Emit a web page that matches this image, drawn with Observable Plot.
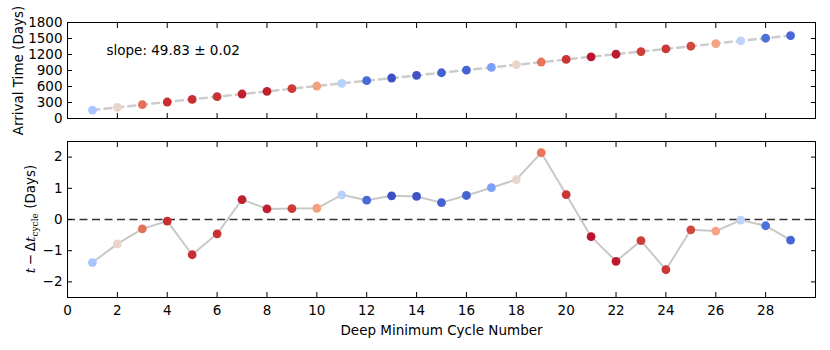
<!DOCTYPE html>
<html>
<head>
<meta charset="utf-8">
<script src="https://cdn.jsdelivr.net/npm/d3@7"></script>
<script src="https://cdn.jsdelivr.net/npm/@observablehq/plot@0.6"></script>
<style>
  body { margin: 0; background: #fff; }
  #chart { width: 830px; }
  #chart svg { display: block; font-family: "DejaVu Sans", sans-serif; }
</style>
</head>
<body>
<div id="chart"></div>
<script>
// ---- data ----
const cycles = [1,2,3,4,5,6,7,8,9,10,11,12,13,14,15,16,17,18,19,20,21,22,23,24,25,26,27,28,29];
const arrivalTimes = [158,209,259,309,358,409,459,509,559,609,659,709,759,808,858,908,958,1008,1059,1107,1156,1205,1255,1304,1355,1405,1455,1505,1554];
const residuals = [-1.38,-0.78,-0.30,-0.05,-1.13,-0.46,0.64,0.34,0.35,0.36,0.79,0.62,0.76,0.74,0.54,0.77,1.02,1.28,2.14,0.80,-0.55,-1.34,-0.68,-1.61,-0.33,-0.37,-0.02,-0.20,-0.66];
const pointColors = ["#a7c5fe","#ead4c8","#e57058","#ca2e31","#c82f33","#c73235","#bf1e2d","#c0212f","#cd3b37","#f4a080",
  "#b9d0f9","#4a6ad8","#3d51c5","#3f55c7","#4361cf","#4563d3","#7ca0f8","#e8d6cc","#e8755b","#cb3337",
  "#bb1430","#bd1a2e","#cd3e38","#cc3838","#d24a3f","#f6a385","#bcd2f7","#4e70db","#4a66d6"];
const xTicks = [0,2,4,6,8,10,12,14,16,18,20,22,24,26,28];
const yTopTicks = [0,300,600,900,1200,1500,1800];
const yBottomTicks = [-2,-1,0,1,2];
const slopeLabel = "slope: 49.83 \u00b1 0.02";
const topYLabel = "Arrival Time (Days)";
const xLabel = "Deep Minimum Cycle Number";

const data = cycles.map((n, i) => ({n, t: arrivalTimes[i], r: residuals[i], c: pointColors[i]}));

const FS = 13.5;
const common = {
  width: 830,
  marginLeft: 67,
  marginRight: 15,
  style: {fontFamily: "DejaVu Sans, sans-serif", fontSize: FS + "px", color: "#000", background: "#fff"},
  x: {domain: [0, 30]},
  color: {type: "identity"}
};
const noText = () => "";
const intFmt = d => String(d).replace("-", "\u2212");

const topPanel = Plot.plot({
  ...common,
  height: 140,
  marginTop: 22,
  marginBottom: 22,
  y: {domain: [0, 1800]},
  marks: [
    Plot.linearRegressionY(data, {x: "n", y: "t", stroke: "#cccccc", strokeWidth: 2.5, strokeDasharray: "7,5", ci: 0}),
    Plot.dot(data, {x: "n", y: "t", r: 4.4, fill: "c", stroke: "none"}),
    Plot.text([slopeLabel], {frameAnchor: "top-left", dx: 39, dy: 23, textAnchor: "start", fontSize: FS, fill: "#000"}),
    Plot.axisX({anchor: "bottom", ticks: xTicks, tickSize: -5, tickFormat: noText, label: null}),
    Plot.axisX({anchor: "top", ticks: xTicks, tickSize: -5, tickFormat: noText, label: null}),
    Plot.axisY({anchor: "left", ticks: yTopTicks, tickSize: -5, tickPadding: 10, fontSize: FS, tickFormat: intFmt,
      label: topYLabel, labelAnchor: "center", labelOffset: 54, labelArrow: "none"}),
    Plot.axisY({anchor: "right", ticks: yTopTicks, tickSize: -5, tickFormat: noText, label: null}),
    Plot.frame({stroke: "#000", strokeWidth: 1})
  ]
});

const bottomPanel = Plot.plot({
  ...common,
  height: 210,
  marginTop: 1,
  marginBottom: 53,
  y: {domain: [-2.5, 2.5]},
  marks: [
    Plot.ruleY([0], {stroke: "#333", strokeWidth: 1.5, strokeDasharray: "8,4.5"}),
    Plot.line(data, {x: "n", y: "r", stroke: "#c8c8c8", strokeWidth: 2}),
    Plot.dot(data, {x: "n", y: "r", r: 4.4, fill: "c", stroke: "none"}),
    Plot.axisX({anchor: "bottom", ticks: xTicks, tickSize: -5, tickPadding: 13, fontSize: FS, tickFormat: intFmt,
      label: xLabel, labelAnchor: "center", labelOffset: 37, labelArrow: "none"}),
    Plot.axisX({anchor: "top", ticks: xTicks, tickSize: -5, tickFormat: noText, label: null}),
    Plot.axisY({anchor: "left", ticks: yBottomTicks, tickSize: -5, tickPadding: 10, fontSize: FS, tickFormat: intFmt,
      label: null}),
    Plot.axisY({anchor: "right", ticks: yBottomTicks, tickSize: -5, tickFormat: noText, label: null}),
    Plot.frame({stroke: "#000", strokeWidth: 1})
  ]
});

// math-style y label of the lower panel: t − Δt_cycle (Days)
{
  const serif = "'DejaVu Serif', serif";
  const lab = d3.select(bottomPanel).append("text")
    .attr("transform", "translate(30,79) rotate(-90)")
    .attr("text-anchor", "middle")
    .attr("dy", "0.35em")
    .attr("font-size", FS)
    .attr("fill", "#000");
  lab.append("tspan").attr("font-family", serif).attr("font-style", "italic").text("t");
  lab.append("tspan").text("\u2009\u2212\u2009\u0394");
  lab.append("tspan").attr("font-family", serif).attr("font-style", "italic").text("t");
  lab.append("tspan").attr("font-family", serif).attr("font-size", 9).attr("dy", 3).text("cycle");
  lab.append("tspan").attr("dy", -3).text(" (Days)");
}

const host = document.getElementById("chart");
host.appendChild(topPanel);
host.appendChild(bottomPanel);
</script>
</body>
</html>
